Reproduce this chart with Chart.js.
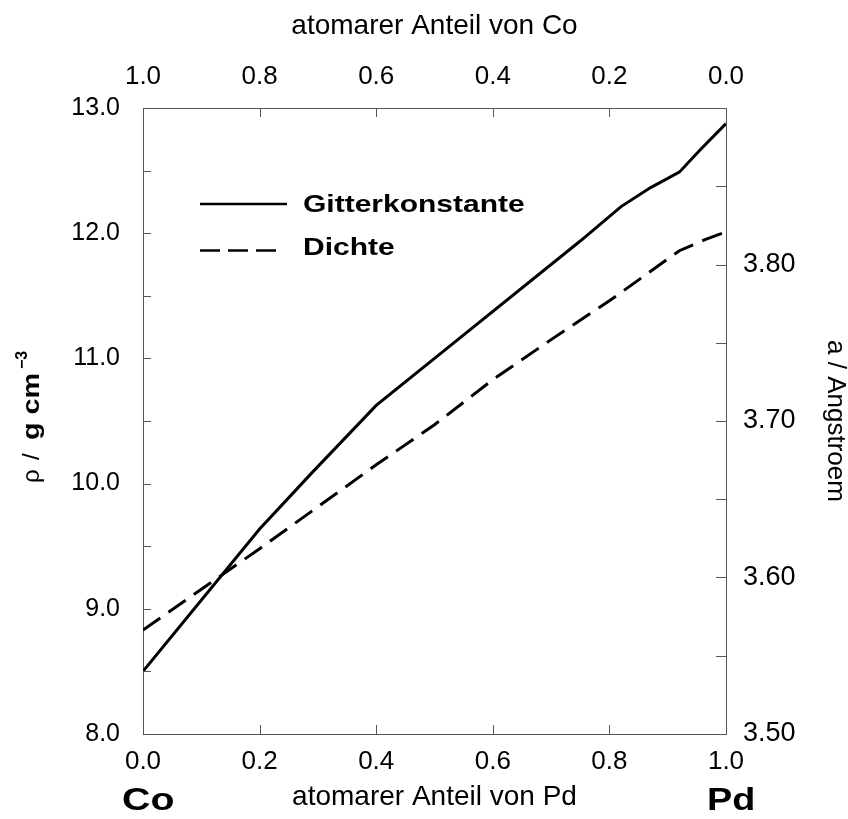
<!DOCTYPE html>
<html><head><meta charset="utf-8">
<script src="https://cdn.jsdelivr.net/npm/chart.js@4/dist/chart.umd.min.js"></script>
<style>html,body{margin:0;padding:0;background:#fff}#wrap{width:848px;height:819px;position:relative}</style>
</head><body><div id="wrap"><canvas id="c"></canvas></div>
<script>
// ---- data ----
const seriesNames = ['Gitterkonstante', 'Dichte'];
// lattice constant a (Angstroem, right axis) vs. atomic fraction of Pd
const latticeX = [0.0, 0.2, 0.29, 0.4, 0.54, 0.75, 0.82, 0.87, 0.92, 0.955, 1.0];
const latticeA = [3.540, 3.631, 3.667, 3.710, 3.752, 3.815, 3.837, 3.849, 3.859, 3.873, 3.890];
// density rho (g cm^-3, left axis) vs. atomic fraction of Pd
const densityX = [0.0, 0.2, 0.4, 0.5, 0.6, 0.7, 0.8, 0.92, 0.965, 1.0];
const densityRho = [8.83, 9.48, 10.15, 10.47, 10.83, 11.15, 11.46, 11.86, 11.95, 12.01];
// axes
const xTitleBottom = 'atomarer Anteil von Pd';
const xTitleTop = 'atomarer Anteil von Co';
const yTitleRight = 'a / Angstroem';
const endLabels = ['Co', 'Pd'];

const FONT = "'Liberation Sans', Arial, Helvetica, sans-serif";
Chart.defaults.font.family = FONT;
Chart.defaults.color = '#000';

const AXIS = '#555';
const TICK = 9;

const inwardTicks = {
  id: 'inwardTicks',
  afterDatasetsDraw(chart) {
    const ctx = chart.ctx, a = chart.chartArea;
    ctx.save();
    ctx.strokeStyle = AXIS; ctx.lineWidth = 1;
    ['x', 'x2', 'y', 'y2'].forEach(id => {
      const s = chart.scales[id];
      s.ticks.forEach(t => {
        const p = Math.round(s.getPixelForValue(t.value)) + 0.5;
        ctx.beginPath();
        if (id === 'x') { ctx.moveTo(p, a.bottom); ctx.lineTo(p, a.bottom - TICK); }
        if (id === 'x2') { ctx.moveTo(p, a.top); ctx.lineTo(p, a.top + TICK); }
        if (id === 'y') { ctx.moveTo(a.left, p); ctx.lineTo(a.left + TICK - 1, p); }
        if (id === 'y2') { ctx.moveTo(a.right, p); ctx.lineTo(a.right - TICK - 1, p); }
        ctx.stroke();
      });
    });
    ctx.restore();
  }
};

function stretchedText(ctx, txt, x, y, sx) {
  ctx.save(); ctx.translate(x, y); ctx.scale(sx, 1); ctx.fillText(txt, 0, 0); ctx.restore();
}

const extras = {
  id: 'extras',
  afterDraw(chart) {
    const ctx = chart.ctx;
    const ds = chart.data.datasets;
    ctx.save();
    ctx.fillStyle = '#000'; ctx.strokeStyle = '#000';
    ctx.textBaseline = 'alphabetic'; ctx.textAlign = 'left';
    // legend
    ctx.lineWidth = 2.5;
    ctx.setLineDash([]);
    ctx.beginPath(); ctx.moveTo(200, 204); ctx.lineTo(287, 204); ctx.stroke();
    ctx.setLineDash([20, 8]);
    ctx.beginPath(); ctx.moveTo(200, 250.5); ctx.lineTo(280, 250.5); ctx.stroke();
    ctx.setLineDash([]);
    ctx.font = 'bold 24px ' + FONT;
    stretchedText(ctx, ds[0].label, 303, 211.5, 1.25);
    stretchedText(ctx, ds[1].label, 303, 255, 1.25);
    // Co / Pd
    ctx.font = 'bold 31px ' + FONT;
    stretchedText(ctx, endLabels[0], 122, 810, 1.27);
    stretchedText(ctx, endLabels[1], 707, 810, 1.22);
    // left axis title: rho / g cm^-3
    ctx.save();
    ctx.translate(39, 483); ctx.rotate(-Math.PI / 2);
    ctx.font = '24px ' + FONT;
    ctx.fillText('\u03C1', 0, 0);
    ctx.fillText('/', 23, 0);
    ctx.font = 'bold 24px ' + FONT;
    ctx.save(); ctx.translate(43, 0); ctx.scale(1.2, 1); ctx.fillText('g cm', 0, 0); ctx.restore();
    ctx.font = 'bold 16px ' + FONT;
    ctx.fillText('\u22123', 114, -12);
    ctx.restore();
    ctx.restore();
  }
};

const pts = (xs, ys) => xs.map((x, i) => ({ x: x, y: ys[i] }));

new Chart(document.getElementById('c'), {
  type: 'line',
  data: {
    datasets: [
      { label: seriesNames[0], data: pts(latticeX, latticeA), xAxisID: 'x', yAxisID: 'y2',
        borderColor: '#000', borderWidth: 3, pointRadius: 0, tension: 0, fill: false },
      { label: seriesNames[1], data: pts(densityX, densityRho), xAxisID: 'x', yAxisID: 'y',
        borderColor: '#000', borderWidth: 3, borderDash: [21, 10], pointRadius: 0, tension: 0, fill: false }
    ]
  },
  options: {
    responsive: true, maintainAspectRatio: false, animation: false,
    layout: { padding: 0 },
    plugins: { legend: { display: false }, tooltip: { enabled: false } },
    scales: {
      x: {
        type: 'linear', position: 'bottom', min: 0, max: 1,
        afterFit: s => { s.height = 85; },
        grid: { display: true, drawOnChartArea: false, drawTicks: false },
        border: { display: true, color: AXIS, width: 1 },
        ticks: { stepSize: 0.2, autoSkip: false, maxRotation: 0, padding: 12, font: { size: 26 },
                 callback: v => v.toFixed(1) },
        title: { display: true, text: xTitleBottom, font: { size: 28 }, padding: { top: 0, bottom: 5 } }
      },
      x2: {
        type: 'linear', position: 'top', min: 0, max: 1, reverse: true,
        afterFit: s => { s.height = 108; },
        grid: { display: true, drawOnChartArea: false, drawTicks: false },
        border: { display: true, color: AXIS, width: 1 },
        ticks: { stepSize: 0.2, autoSkip: false, maxRotation: 0, padding: 16, font: { size: 26 },
                 callback: v => v.toFixed(1) },
        title: { display: true, text: xTitleTop, font: { size: 28 }, padding: { top: 9, bottom: 0 } }
      },
      y: {
        type: 'linear', position: 'left', min: 8, max: 13,
        afterFit: s => { s.width = 143; },
        grid: { display: true, drawOnChartArea: false, drawTicks: false },
        border: { display: true, color: AXIS, width: 1 },
        ticks: { stepSize: 0.5, autoSkip: false, padding: 23, font: { size: 25 },
                 callback: v => Math.abs(v - Math.round(v)) < 1e-6 ? v.toFixed(1) : '' }
      },
      y2: {
        type: 'linear', position: 'right', min: 3.5, max: 3.9,
        afterFit: s => { s.width = 122; },
        grid: { display: true, drawOnChartArea: false, drawTicks: false },
        border: { display: true, color: AXIS, width: 1 },
        ticks: { stepSize: 0.05, autoSkip: false, padding: 17, font: { size: 27 },
                 callback: v => { const k = Math.round(v * 100); return (k % 10 === 0 && k <= 380) ? v.toFixed(2) : ''; } },
        title: { display: true, text: yTitleRight, font: { size: 26, lineHeight: 1.0 }, padding: 0 }
      }
    }
  },
  plugins: [inwardTicks, extras]
});
</script>
</body></html>
